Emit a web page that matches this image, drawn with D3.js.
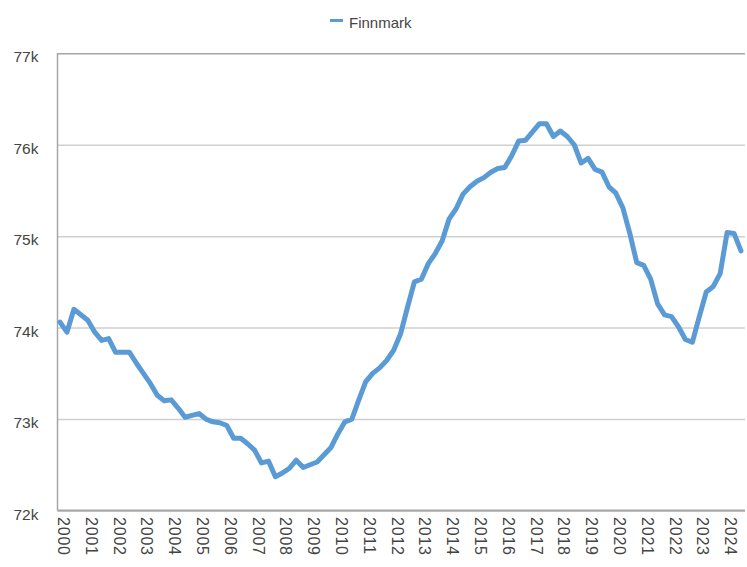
<!DOCTYPE html>
<html>
<head>
<meta charset="utf-8">
<script src="https://cdn.jsdelivr.net/npm/d3@7"></script>
<style>
    body { margin: 0; background: #fff; }
    text { font-family: "Liberation Sans", Arial, sans-serif; fill: #444; }
</style>
</head>
<body>
<svg></svg>
<script>
// Finnmark population, quarterly 2000K1 - 2024K3
var seriesName = "Finnmark";
var years = ["2000", "2001", "2002", "2003", "2004", "2005", "2006", "2007", "2008", "2009", "2010", "2011", "2012",
    "2013", "2014", "2015", "2016", "2017", "2018", "2019", "2020", "2021", "2022", "2023", "2024"];
var population = [
    74060, 73950, 74200, 74140, 74080, 73950, 73860, 73880,
    73730, 73730, 73730, 73610, 73500, 73390, 73260, 73200,
    73210, 73120, 73020, 73040, 73060, 73000, 72970, 72960,
    72930, 72790, 72790, 72730, 72660, 72520, 72540, 72370,
    72410, 72460, 72550, 72470, 72500, 72530, 72610, 72690,
    72840, 72970, 73000, 73210, 73410, 73500, 73560, 73640,
    73750, 73930, 74220, 74500, 74530, 74700, 74810, 74950,
    75190, 75300, 75460, 75540, 75600, 75640, 75700, 75740,
    75750, 75880, 76040, 76050, 76140, 76230, 76230, 76090,
    76150, 76090, 76000, 75800, 75850, 75730, 75700, 75540,
    75470, 75310, 75030, 74710, 74680, 74530, 74260, 74140,
    74120, 74010, 73870, 73840, 74120, 74390, 74450, 74590,
    75040, 75030, 74840
];
var yTicks = [72000, 73000, 74000, 75000, 76000, 77000];

var quarters = [];
years.forEach(function (y) {
    ["K1", "K2", "K3", "K4"].forEach(function (q) { quarters.push(y + q); });
});
quarters = quarters.slice(0, population.length);

var width = 747, height = 567;
var left = 57.5, right = 745;

var svg = d3.select("svg").attr("width", width).attr("height", height);

var x = d3.scalePoint().domain(quarters).range([60, 741]);
var y = d3.scaleLinear().domain([72000, 77000]).range([510.5, 53.3]);

// gridlines + y labels
var yAxis = svg.append("g")
    .attr("transform", "translate(" + left + ",0)")
    .call(d3.axisLeft(y).tickValues(yTicks).tickSize(-(right - left)).tickPadding(19)
        .tickFormat(function (d) { return d / 1000 + "k"; }));
yAxis.select(".domain").remove();
yAxis.selectAll(".tick line")
    .attr("stroke", function (d) { return d === 77000 ? "#a6a6a6" : "#cfcfcf"; })
    .attr("stroke-width", 1.5);
yAxis.selectAll(".tick text")
    .attr("dy", "0.55em")
    .style("font-size", "15.5px");

// x labels, one per year
var xAxis = svg.append("g")
    .attr("transform", "translate(0," + y(72000) + ")")
    .call(d3.axisBottom(x).tickValues(quarters.filter(function (q) { return q.slice(4) === "K1"; }))
        .tickSize(0).tickFormat(function (q) { return q.slice(0, 4); }));
xAxis.select(".domain").remove();
xAxis.selectAll(".tick text")
    .attr("transform", "rotate(90)")
    .attr("text-anchor", "start")
    .attr("x", 6.5)
    .attr("y", 2.5)
    .attr("dy", 0)
    .style("font-size", "16px")
    .style("letter-spacing", "0.8px");

// axis lines
svg.append("line")
    .attr("x1", left).attr("x2", left)
    .attr("y1", y(77000)).attr("y2", y(72000))
    .attr("stroke", "#a6a6a6").attr("stroke-width", 1.5);
svg.append("line")
    .attr("x1", left).attr("x2", right)
    .attr("y1", y(72000)).attr("y2", y(72000))
    .attr("stroke", "#a6a6a6").attr("stroke-width", 2);

// the series
var line = d3.line()
    .x(function (d, i) { return x(quarters[i]); })
    .y(function (d) { return y(d); });

svg.append("path")
    .datum(population)
    .attr("fill", "none")
    .attr("stroke", "#5b9bd5")
    .attr("stroke-width", 5)
    .attr("stroke-linejoin", "round")
    .attr("stroke-linecap", "round")
    .attr("d", line);

// legend
var legend = svg.append("g").attr("transform", "translate(330,20.5)");
legend.append("line")
    .attr("x1", 0).attr("x2", 13)
    .attr("stroke", "#5b9bd5").attr("stroke-width", 3);
legend.append("text")
    .attr("x", 19).attr("y", 7.5)
    .style("font-size", "15px")
    .text(seriesName);
</script>
</body>
</html>
